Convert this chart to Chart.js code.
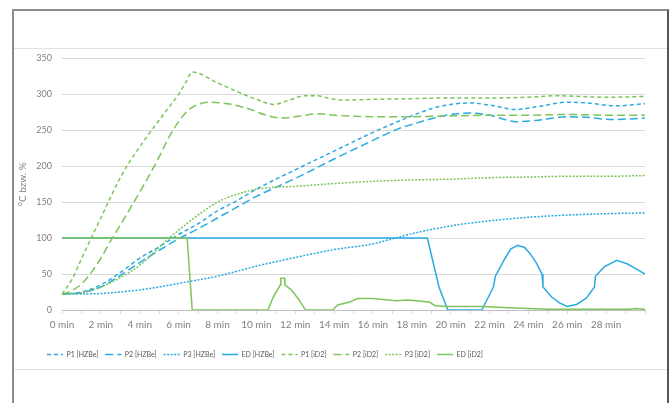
<!DOCTYPE html>
<html lang="de">
<head>
  <meta charset="UTF-8">
  <title>Temperaturverlauf HZBe / iD2</title>
  <script src="https://cdn.jsdelivr.net/npm/chart.js"></script>
  <style>
    body { margin: 0; background: #fff; font-family: Lato, sans-serif; }
    .frame {
      position: absolute; left: 12px; top: 9px; width: 653px; height: 400px;
      border-top: 2px solid #8c8c8c; border-left: 2px solid #8c8c8c; border-right: 2px solid #555;
    }
    .hline { position: absolute; left: 14px; width: 653px; height: 1px; background: #e2e2e2; }
    .chart-box { position: absolute; left: 14px; top: 43px; width: 652px; height: 325px; }
  </style>
</head>
<body>
  <div class="frame"></div>
  <div class="hline" style="top: 48px;"></div>
  <div class="hline" style="top: 369px;"></div>
  <div class="chart-box"><canvas id="chart"></canvas></div>

  <script>
    // Zeit in Minuten / Werte in °C bzw. %
    const P1_HZBe_t = [0, 1, 2, 3, 4, 5, 6, 7, 8, 9, 10, 12, 14, 16, 18, 19, 20, 21, 22, 23.4, 24.5, 26, 27, 28.5, 30];
    const P1_HZBe_v = [22, 25, 35, 52, 72, 88, 105, 120, 138, 152, 168, 195, 221, 247, 270, 280, 286, 288, 285, 279, 283, 289, 288, 284, 287];

    const P2_HZBe_t = [0, 1, 2, 3, 4, 5, 6, 7, 8, 9, 10, 12, 14, 16, 17.3, 18, 19, 20, 21, 22, 23.4, 24.5, 26, 27, 28.3, 30];
    const P2_HZBe_v = [22, 24, 32, 48, 66, 83, 99, 113, 128, 143, 158, 183, 210, 236, 252, 258, 266, 272, 274, 271, 262, 264, 269, 268, 265, 267];

    const P3_HZBe_t = [0, 2, 4, 5, 6, 8, 10, 12, 14, 16, 17, 18, 20, 22, 24, 26, 28, 30];
    const P3_HZBe_v = [22, 23, 28, 32, 37, 47, 61, 73, 84, 92, 99, 106, 117, 124, 129, 132, 134, 135];

    const ED_HZBe_t = [0, 18.8, 19.4, 19.85, 21.6, 22.2, 22.3, 22.8, 23.1, 23.45, 23.8, 24.1, 24.4, 24.7, 24.75, 25.2, 25.6, 26, 26.5, 27, 27.4, 27.45, 27.9, 28.55, 29.1, 29.5, 30];
    const ED_HZBe_v = [100, 100, 32, 0, 0, 32, 47, 72, 85, 90, 87, 78, 66, 50, 32, 18, 10, 5, 8, 17, 32, 47, 60, 69, 64, 58, 50];

    const P1_iD2_t = [0, 0.5, 1, 1.5, 2, 2.5, 3, 3.5, 4, 4.5, 5, 5.5, 6, 6.4, 6.7, 8, 9, 10, 10.9, 11.7, 12.5, 13.1, 13.8, 14.5, 16, 18, 20, 22, 24, 25.4, 28, 30];
    const P1_iD2_v = [22, 42, 71, 100, 128, 157, 184, 207, 227, 246, 264, 282, 300, 318, 331, 316, 304, 293, 286, 292, 298, 298, 294, 292, 293, 294, 295, 295, 296, 298, 296, 297];

    const P2_iD2_t = [0, 0.5, 1, 1.5, 2, 2.5, 3, 3.5, 4, 4.5, 5, 5.5, 6, 6.5, 7, 7.6, 8.5, 9.6, 10.5, 11.3, 12.3, 13.2, 14, 16, 18, 20, 22, 24, 26, 28, 30];
    const P2_iD2_v = [22, 27, 36, 52, 72, 96, 118, 141, 164, 188, 213, 240, 262, 278, 286, 289, 287, 280, 271, 267, 270, 273, 271, 269, 269, 270, 271, 271, 272, 271, 271];

    const P3_iD2_t = [0, 1, 2, 3, 4, 5, 5.5, 6, 7, 8, 9, 10, 11, 12, 13, 14, 16, 18, 20, 22, 24, 26, 28, 30];
    const P3_iD2_v = [22, 24, 32, 45, 62, 87, 100, 111, 132, 150, 161, 168, 171, 172, 174, 176, 179, 181, 182, 184, 185, 186, 186, 187];

    const ED_iD2_t = [0, 6.44, 6.7, 10.6, 10.87, 11.24, 11.26, 11.45, 11.47, 11.8, 12.2, 12.48, 12.56, 13.93, 14.18, 14.8, 15.2, 16, 17.2, 17.8, 18.9, 19.2, 19.8, 21.6, 23, 25, 29.2, 29.5, 30];
    const ED_iD2_v = [100, 100, 0, 0, 18, 35, 44, 44, 35, 28, 14, 2, 0, 0, 7, 11, 16, 16, 13, 14, 11, 6, 5, 5, 3, 1, 1, 2, 1];

    const xTicks = [0, 2, 4, 6, 8, 10, 12, 14, 16, 18, 20, 22, 24, 26, 28];

    const blue = "#29abe2";
    const green = "#7dc45a";
    const font = "Lato";

    function pts(t, v) { return t.map((x, i) => ({ x: x, y: v[i] })); }

    function series(label, t, v, color, dash, order, smooth) {
      return {
        label: label,
        data: pts(t, v),
        borderColor: color,
        backgroundColor: color,
        borderWidth: 1.5,
        borderDash: dash,
        pointRadius: 0,
        pointStyle: "line",
        tension: smooth ? 0.4 : 0,
        cubicInterpolationMode: smooth ? "monotone" : "default",
        order: order
      };
    }

    const shortDash = [4, 3], longDash = [8, 4], dotDash = [2, 1.5];

    // Legende etwas nach rechts schieben (wie im Original)
    const legendShift = {
      id: "legendShift",
      afterLayout(chart) {
        chart.legend.left += 26;
        chart.legend.right += 26;
      }
    };

    new Chart(document.getElementById("chart"), {
      type: "line",
      data: {
        datasets: [
          series("P1 [HZBe]", P1_HZBe_t, P1_HZBe_v, blue, shortDash, 8, true),
          series("P2 [HZBe]", P2_HZBe_t, P2_HZBe_v, blue, longDash, 7, true),
          series("P3 [HZBe]", P3_HZBe_t, P3_HZBe_v, blue, dotDash, 6, true),
          series("ED [HZBe]", ED_HZBe_t, ED_HZBe_v, blue, [], 5, false),
          series("P1 [iD2]", P1_iD2_t, P1_iD2_v, green, shortDash, 4, true),
          series("P2 [iD2]", P2_iD2_t, P2_iD2_v, green, longDash, 3, true),
          series("P3 [iD2]", P3_iD2_t, P3_iD2_v, green, dotDash, 2, true),
          series("ED [iD2]", ED_iD2_t, ED_iD2_v, green, [], 1, false)
        ]
      },
      plugins: [legendShift],
      options: {
        responsive: true,
        maintainAspectRatio: false,
        animation: false,
        layout: { padding: { top: 8, right: 21, left: 0, bottom: 0 } },
        plugins: {
          tooltip: { enabled: false },
          legend: {
            position: "bottom",
            align: "start",
            labels: {
              usePointStyle: true,
              pointStyleWidth: 16,
              boxHeight: 8,
              padding: 7,
              color: "#595959",
              font: { family: font, size: 7 },
              sort: (a, b) => a.datasetIndex - b.datasetIndex,
              // Strichart der Linien auch in der Legende zeigen
              generateLabels: chart => {
                const items = Chart.defaults.plugins.legend.labels.generateLabels(chart);
                items.forEach(it => {
                  const ds = chart.data.datasets[it.datasetIndex];
                  it.lineDash = ds.borderDash;
                  it.lineWidth = 1.5;
                  it.strokeStyle = ds.borderColor;
                });
                return items;
              }
            }
          }
        },
        scales: {
          x: {
            type: "linear",
            min: 0,
            max: 30,
            afterFit: s => { s.height = 34; },
            afterBuildTicks: s => { s.ticks = Array.from({ length: 31 }, (_, i) => ({ value: i })); },
            grid: { drawOnChartArea: false, tickLength: 4, color: "#d9d9d9" },
            border: { display: true, color: "#bfbfbf" },
            ticks: {
              autoSkip: false,
              maxRotation: 0,
              padding: 5,
              color: "#808080",
              font: { family: font, size: 10 },
              callback: v => xTicks.includes(v) ? v + " min" : ""
            }
          },
          y: {
            min: 0,
            max: 350,
            afterFit: s => { s.width = 48; },
            grid: { color: "#d9d9d9", drawTicks: false },
            border: { display: false },
            ticks: { stepSize: 50, padding: 10, color: "#808080", font: { family: font, size: 9 } },
            title: {
              display: true,
              text: "°C bzw. %",
              color: "#808080",
              font: { family: font, size: 10 },
              padding: { top: 3, bottom: 0 }
            }
          }
        }
      }
    });
  </script>
</body>
</html>
